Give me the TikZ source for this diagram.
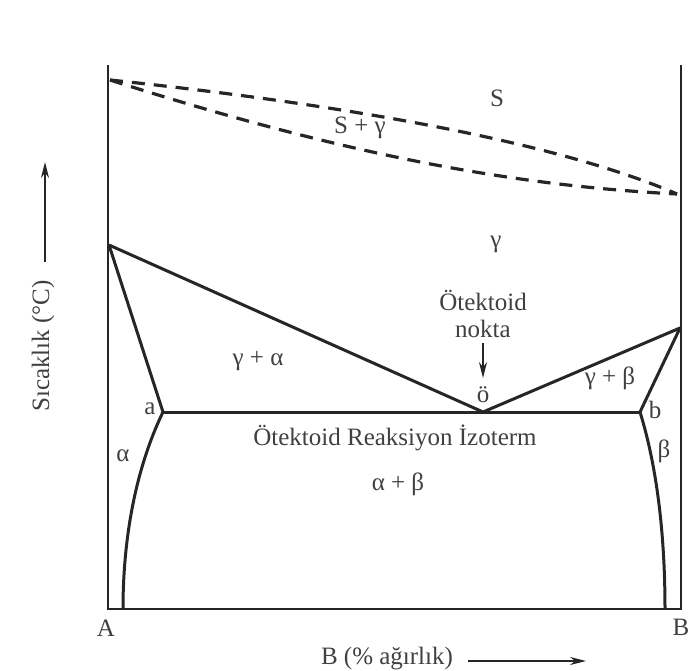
\documentclass[tikz,border=0pt]{standalone}
\usepackage{fontspec}
\setmainfont{Liberation Serif}
\usetikzlibrary{arrows.meta}
\definecolor{ink}{HTML}{262626}
\definecolor{txt}{HTML}{404040}
\begin{document}
\begin{tikzpicture}[x=1pt,y=-1pt,
  phase/.style={line width=3pt,draw=ink,line join=round},
  axisline/.style={line width=2.6pt,draw=ink},
  liq/.style={line width=3.2pt,draw=ink,dash pattern=on 13pt off 9pt},
  lab/.style={text=txt,font=\fontsize{25}{29}\selectfont,inner sep=0pt},
  arr/.style={line width=1.8pt,draw=ink,-{Stealth[length=16pt,width=8pt]}}]
\useasboundingbox (0,0) rectangle (688,671);
% frame
\coordinate (TL) at (108,65);
\coordinate (BL) at (108,609);
\coordinate (BR) at (681,609);
\coordinate (TR) at (681,65);
\draw[axisline] (TL) -- (BL) -- (BR) -- (TR);
% liquidus / solidus (dashed)
\coordinate (D1) at (110,80);
\coordinate (D2) at (677,194);
\draw[liq] (D1) .. controls (300,100) and (540,135) .. (D2);
\draw[liq] (D1) .. controls (330,150) and (500,185) .. (D2);
% solid phase boundaries
\coordinate (G) at (109,245);
\coordinate (a) at (163,412);
\coordinate (e) at (483,412);
\coordinate (b) at (640,412);
\coordinate (R) at (680,328);
\coordinate (aB) at (123,609);
\coordinate (bB) at (665,609);
\draw[phase] (G) -- (e) -- (R) -- (b);
\draw[phase] (G) -- (a);
\draw[phase] (a) -- (b);
\draw[phase] (a) .. controls (135,470) and (123,540) .. (aB);
\draw[phase] (b) .. controls (658,470) and (665,540) .. (bB);
% labels
\node[lab] (S) at (497,98) {S};
\node[lab] (SG) at (360,128) {S + γ};
\node[lab] (Gm) at (496,244) {γ};
\node[lab,align=center] (ot) at (483,314) {Ötektoid\\[-2pt]nokta};
\coordinate (arrS) at (483,343);
\coordinate (arrE) at (483,378);
\draw[arr] (arrS) -- (arrE);
\node[lab] (oo) at (483,395) {ö};
\node[lab] (ga) at (258,361) {γ + α};
\node[lab] (gb) at (610,378) {γ + β};
\node[lab] (la) at (150,409) {a};
\node[lab] (lb) at (655,410) {b};
\node[lab] (al) at (123,456) {α};
\node[lab] (be) at (664,451) {β};
\node[lab] (iso) at (395,438) {Ötektoid Reaksiyon İzoterm};
\node[lab] (ab) at (398,484) {α + β};
\node[lab] (A) at (106,628) {A};
\node[lab] (B) at (681,627) {B};
\node[lab] (xl) at (387,659) {B (\% ağırlık)};
\coordinate (xaS) at (468,661);
\coordinate (xaE) at (586,661);
\draw[arr] (xaS) -- (xaE);
\node[lab,rotate=90] (yl) at (43,346) {Sıcaklık (°C)};
\coordinate (yaS) at (45,262);
\coordinate (yaE) at (45,162);
\draw[arr] (yaS) -- (yaE);
\end{tikzpicture}
\end{document}
